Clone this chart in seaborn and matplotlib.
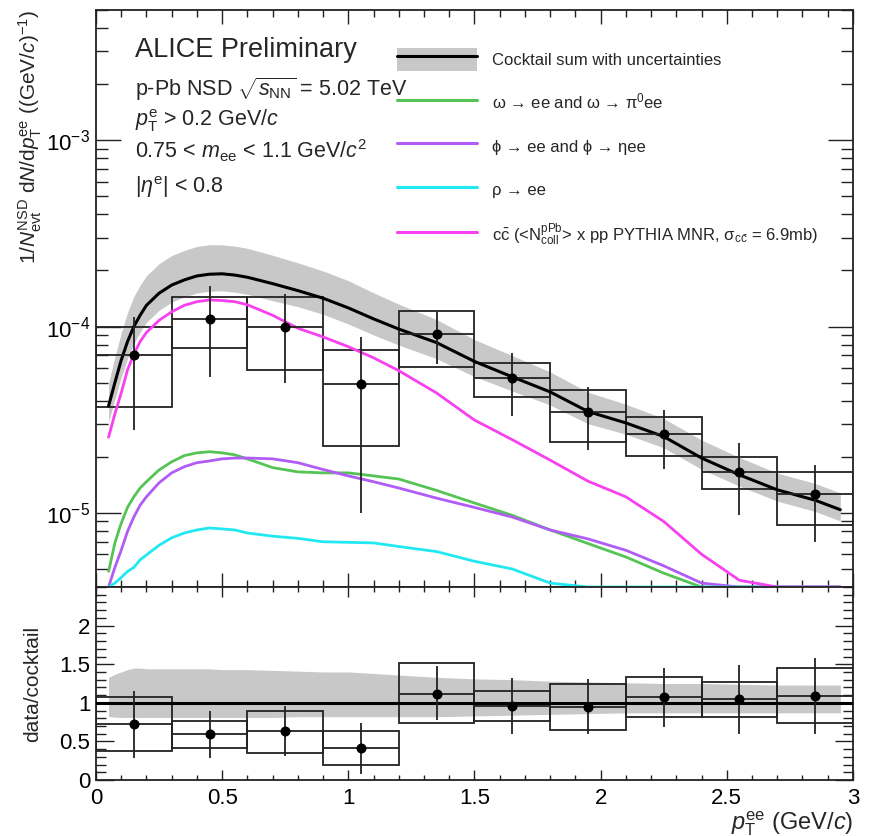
import numpy as np
import matplotlib
matplotlib.use('Agg')
import matplotlib.pyplot as plt
import seaborn as sns
from matplotlib.patches import Rectangle, Patch
from matplotlib.lines import Line2D
from matplotlib.ticker import MultipleLocator, LogLocator, NullFormatter, FuncFormatter

# ---------------- data ----------------
pt_edges = [0.0, 0.3, 0.6, 0.9, 1.2, 1.5, 1.8, 2.1, 2.4, 2.7, 3.0]

# spectrum (top panel)
data_y = [7.0e-5, 1.10e-4, 1.0e-4, 4.9e-5, 9.1e-5, 5.3e-5, 3.48e-5, 2.65e-5, 1.66e-5, 1.26e-5]
stat_hi = [1.12e-4, 1.65e-4, 1.5e-4, 8.8e-5, 1.2e-4, 7.2e-5, 4.75e-5, 3.57e-5, 2.37e-5, 1.81e-5]
stat_lo = [2.8e-5, 5.35e-5, 4.98e-5, 1.0e-5, 6.3e-5, 3.3e-5, 2.18e-5, 1.72e-5, 9.8e-6, 7.0e-6]
syst_hi = [1.0e-4, 1.44e-4, 1.44e-4, 7.5e-5, 1.21e-4, 6.37e-5, 4.57e-5, 3.27e-5, 2.0e-5, 1.66e-5]
syst_lo = [3.7e-5, 7.66e-5, 5.85e-5, 2.29e-5, 6.07e-5, 4.19e-5, 2.4e-5, 2.02e-5, 1.34e-5, 8.6e-6]

# data / cocktail (bottom panel)
ratio_y = [0.72, 0.59, 0.63, 0.41, 1.12, 0.96, 0.95, 1.08, 1.05, 1.09]
ratio_stat_hi = [1.15, 0.89, 0.96, 0.74, 1.48, 1.32, 1.31, 1.45, 1.49, 1.58]
ratio_stat_lo = [0.29, 0.29, 0.31, 0.08, 0.78, 0.60, 0.59, 0.69, 0.60, 0.60]
ratio_syst_hi = [1.07, 0.77, 0.90, 0.63, 1.51, 1.15, 1.24, 1.33, 1.27, 1.45]
ratio_syst_lo = [0.37, 0.41, 0.35, 0.19, 0.74, 0.76, 0.65, 0.81, 0.82, 0.74]

# cocktail curves (0 = below the frame)
curve_pt = [0.05, 0.075, 0.1, 0.125, 0.15, 0.175, 0.2, 0.25, 0.3, 0.35, 0.4, 0.45, 0.5, 0.55,
            0.6, 0.7, 0.8, 0.9, 1.0, 1.1, 1.2, 1.35, 1.5, 1.65, 1.8, 1.95, 2.1, 2.25, 2.4,
            2.55, 2.7, 2.85, 2.95]
cocktail = [3.75e-5, 5.0e-5, 6.6e-5, 8.3e-5, 1.0e-4, 1.15e-4, 1.3e-4, 1.51e-4, 1.67e-4,
            1.78e-4, 1.87e-4, 1.91e-4, 1.92e-4, 1.89e-4, 1.84e-4, 1.70e-4, 1.56e-4, 1.42e-4,
            1.26e-4, 1.10e-4, 9.7e-5, 8.2e-5, 6.5e-5, 5.37e-5, 4.46e-5, 3.5e-5, 3.04e-5,
            2.57e-5, 1.97e-5, 1.6e-5, 1.33e-5, 1.17e-5, 1.04e-5]
omega = [4.85e-6, 6.9e-6, 8.8e-6, 1.07e-5, 1.22e-5, 1.36e-5, 1.47e-5, 1.7e-5, 1.88e-5,
         2.03e-5, 2.1e-5, 2.13e-5, 2.1e-5, 2.05e-5, 1.95e-5, 1.75e-5, 1.66e-5, 1.64e-5,
         1.64e-5, 1.58e-5, 1.52e-5, 1.32e-5, 1.13e-5, 9.7e-6, 8.1e-6, 6.85e-6, 5.8e-6,
         4.75e-6, 0, 0, 0, 0, 0]
phi = [4.0e-6, 5.1e-6, 6.3e-6, 7.95e-6, 9.5e-6, 1.1e-5, 1.22e-5, 1.45e-5, 1.64e-5,
       1.77e-5, 1.86e-5, 1.9e-5, 1.95e-5, 1.97e-5, 1.97e-5, 1.95e-5, 1.86e-5, 1.71e-5,
       1.58e-5, 1.47e-5, 1.36e-5, 1.2e-5, 1.07e-5, 9.5e-6, 8.1e-6, 7.25e-6, 6.3e-6,
       5.2e-6, 4.2e-6, 0, 0, 0, 0]
rho = [4.0e-6, 4.2e-6, 4.5e-6, 4.85e-6, 5.1e-6, 5.6e-6, 5.95e-6, 6.7e-6, 7.35e-6,
       7.8e-6, 8.1e-6, 8.3e-6, 8.2e-6, 8.1e-6, 7.8e-6, 7.5e-6, 7.3e-6, 7.0e-6,
       6.95e-6, 6.9e-6, 6.6e-6, 6.2e-6, 5.5e-6, 5.0e-6, 4.2e-6, 0, 0,
       0, 0, 0, 0, 0, 0]
ccbar = [2.55e-5, 3.4e-5, 4.4e-5, 5.85e-5, 7.1e-5, 8.3e-5, 9.3e-5, 1.08e-4, 1.2e-4,
         1.30e-4, 1.36e-4, 1.39e-4, 1.38e-4, 1.36e-4, 1.31e-4, 1.15e-4, 9.8e-5, 8.8e-5,
         7.8e-5, 6.8e-5, 5.8e-5, 4.4e-5, 3.15e-5, 2.47e-5, 1.92e-5, 1.48e-5, 1.22e-5,
         9.0e-6, 6.0e-6, 4.35e-6, 0, 0, 0]
# relative uncertainty of the cocktail sum
band_hi = [1.33, 1.37, 1.40, 1.43, 1.45, 1.45, 1.44, 1.44, 1.44, 1.44, 1.44, 1.44, 1.43, 1.43,
           1.43, 1.42, 1.41, 1.40, 1.40, 1.38, 1.36, 1.33, 1.31, 1.30, 1.28, 1.27, 1.26, 1.25,
           1.25, 1.24, 1.23, 1.23, 1.23]
band_lo = [0.82, 0.815, 0.81, 0.81, 0.81, 0.81, 0.81, 0.81, 0.81, 0.81, 0.81, 0.81, 0.81, 0.81,
           0.81, 0.81, 0.82, 0.82, 0.82, 0.82, 0.82, 0.82, 0.83, 0.84, 0.85, 0.86, 0.87, 0.87,
           0.87, 0.87, 0.87, 0.87, 0.87]

x_ticks = [0, 0.5, 1, 1.5, 2, 2.5, 3]
ratio_ticks = [0, 0.5, 1, 1.5, 2]

# ---------------- style ----------------
sns.set_theme(style='ticks')
plt.rcParams['font.family'] = ['Liberation Sans', 'DejaVu Sans']
plt.rcParams['mathtext.fontset'] = 'custom'
plt.rcParams['mathtext.rm'] = 'Liberation Sans'
plt.rcParams['mathtext.it'] = 'Liberation Sans:italic'
plt.rcParams['mathtext.bf'] = 'Liberation Sans:bold'
plt.rcParams['axes.linewidth'] = 1.3

YMIN, YMAX = 4e-6, 5e-3
GRAY = '#c8c8c8'
colors = {'omega': '#55c455', 'phi': '#b05cf5', 'rho': '#22e8f2', 'ccbar': '#f740f0'}

fig = plt.figure(figsize=(8.74, 8.36), dpi=100)
ax1 = fig.add_axes([0.1098, 0.2978, 0.8661, 0.6902])
ax2 = fig.add_axes([0.1098, 0.0670, 0.8661, 0.2308], sharex=ax1)

edges = np.array(pt_edges)
centers = 0.5 * (edges[:-1] + edges[1:])
widths = np.diff(edges)
cpt = np.array(curve_pt)
ckt = np.array(cocktail)

# ---------------- top panel ----------------
ax1.set_yscale('log')
ax1.fill_between(cpt, ckt * np.array(band_lo), ckt * np.array(band_hi), color=GRAY, lw=0, zorder=1)

for key, vals in [('omega', omega), ('phi', phi), ('rho', rho), ('ccbar', ccbar)]:
    yy = np.clip(np.array(vals, dtype=float), YMIN, None)
    sns.lineplot(x=cpt, y=yy, ax=ax1, color=colors[key], lw=2.0, estimator=None,
                 sort=False, zorder=3, clip_on=False)
sns.lineplot(x=cpt, y=ckt, ax=ax1, color='black', lw=2.2, estimator=None, sort=False, zorder=4)

for lo, w, b, t in zip(edges[:-1], widths, syst_lo, syst_hi):
    ax1.add_patch(Rectangle((lo, b), w, t - b, fill=False, ec='#222222', lw=1.3, zorder=2))
dy = np.array(data_y)
ax1.errorbar(centers, dy, yerr=[dy - np.array(stat_lo), np.array(stat_hi) - dy],
             xerr=widths / 2, fmt='o', ms=6.2, color='black', ecolor='#222222',
             elinewidth=1.3, capsize=0, zorder=5)

ax1.set_xlim(0, 3)
ax1.set_ylim(YMIN, YMAX)
ax1.yaxis.set_major_locator(LogLocator(base=10, numticks=10))
ax1.yaxis.set_minor_locator(LogLocator(base=10, subs=np.arange(2, 10), numticks=20))
ax1.yaxis.set_minor_formatter(NullFormatter())
ax1.set_ylabel(r'1/$N_{\rm evt}^{\rm NSD}$ d$N$/d$p_{\rm T}^{\rm ee}$ ((GeV/$c$)$^{-1}$)',
               fontsize=15, loc='top')
ax1.yaxis.set_label_coords(-0.069, 1.0)
ax1.tick_params(labelbottom=False)

# legend
handles = [(Patch(fc=GRAY, ec='none'), Line2D([], [], color='black', lw=2.2)),
           Line2D([], [], color=colors['omega'], lw=2.2),
           Line2D([], [], color=colors['phi'], lw=2.2),
           Line2D([], [], color=colors['rho'], lw=2.2),
           Line2D([], [], color=colors['ccbar'], lw=2.2)]
labels = ['Cocktail sum with uncertainties',
          r'ω → ee and ω → π$^{0}$ee',
          'ϕ → ee and ϕ → ηee',
          'ρ → ee',
          r'c$\mathrm{\bar{c}}$ (<$\mathrm{N}_{\rm coll}^{\rm pPb}$> x pp PYTHIA MNR, '
          r'σ$_{\rm c\bar{c}}$ = 6.9mb)']
ax1.legend(handles, labels, loc='upper left', bbox_to_anchor=(0.398, 0.935), frameon=False,
           fontsize=12, handlelength=4.8, handleheight=1.8, labelspacing=1.2,
           handletextpad=0.9, borderpad=0, borderaxespad=0)

# header text
ax1.text(0.0515, 0.9185, 'ALICE Preliminary', transform=ax1.transAxes, fontsize=19.5, va='baseline')
info = [r'p-Pb NSD $\sqrt{s_{\rm NN}}$ = 5.02 TeV',
        r'$p_{\rm T}^{\rm e}$ > 0.2 GeV/$c$',
        r'0.75 < $m_{\rm ee}$ < 1.1 GeV/$c^{2}$',
        r'|$\eta^{\rm e}$| < 0.8']
for txt, yb in zip(info, [0.851, 0.799, 0.742, 0.683]):
    ax1.text(0.0515, yb, txt, transform=ax1.transAxes, fontsize=15.5, va='baseline')

# ---------------- bottom panel ----------------
ax2.fill_between(cpt, band_lo, band_hi, color=GRAY, lw=0, zorder=1)
ax2.axhline(1.0, color='black', lw=2.2, zorder=4)
for lo, w, b, t in zip(edges[:-1], widths, ratio_syst_lo, ratio_syst_hi):
    ax2.add_patch(Rectangle((lo, b), w, t - b, fill=False, ec='#222222', lw=1.3, zorder=2))
ry = np.array(ratio_y)
ax2.errorbar(centers, ry, yerr=[ry - np.array(ratio_stat_lo), np.array(ratio_stat_hi) - ry],
             xerr=widths / 2, fmt='o', ms=6.2, color='black', ecolor='#222222',
             elinewidth=1.3, capsize=0, zorder=5)
ax2.set_ylim(0, 2.5)
ax2.set_yticks(ratio_ticks)
ax2.yaxis.set_minor_locator(MultipleLocator(0.1))
ax2.yaxis.set_major_formatter(FuncFormatter(lambda v, p: f'{v:g}'))
ax2.set_xticks(x_ticks)
ax2.xaxis.set_minor_locator(MultipleLocator(0.1))
ax2.xaxis.set_major_formatter(FuncFormatter(lambda v, p: f'{v:g}'))
ax2.set_ylabel('data/cocktail', fontsize=15)
ax2.yaxis.set_label_coords(-0.071, 0.5)
ax2.set_xlabel(r'$p_{\rm T}^{\rm ee}$ (GeV/$c$)', fontsize=17, loc='right')
ax2.xaxis.set_label_coords(1.0, -0.15)

# ROOT-like ticks
for ax in (ax1, ax2):
    ax.tick_params(which='both', direction='in', top=True, right=True, width=1.0,
                   colors='#222222', labelcolor='black', labelsize=16)
    ax.tick_params(axis='x', pad=6)
    ax.tick_params(axis='y', pad=4)
    for s in ax.spines.values():
        s.set_linewidth(1.3)
        s.set_color('#222222')
ax1.tick_params(axis='y', which='major', length=18)
ax1.tick_params(axis='y', which='minor', length=8.5)
ax1.tick_params(axis='x', which='major', length=10)
ax1.tick_params(axis='x', which='minor', length=5)
ax2.tick_params(axis='y', which='major', length=13)
ax2.tick_params(axis='y', which='minor', length=7)
ax2.tick_params(axis='x', which='major', length=7)
ax2.tick_params(axis='x', which='minor', length=3.6)

fig.savefig('out.png', dpi=100)
